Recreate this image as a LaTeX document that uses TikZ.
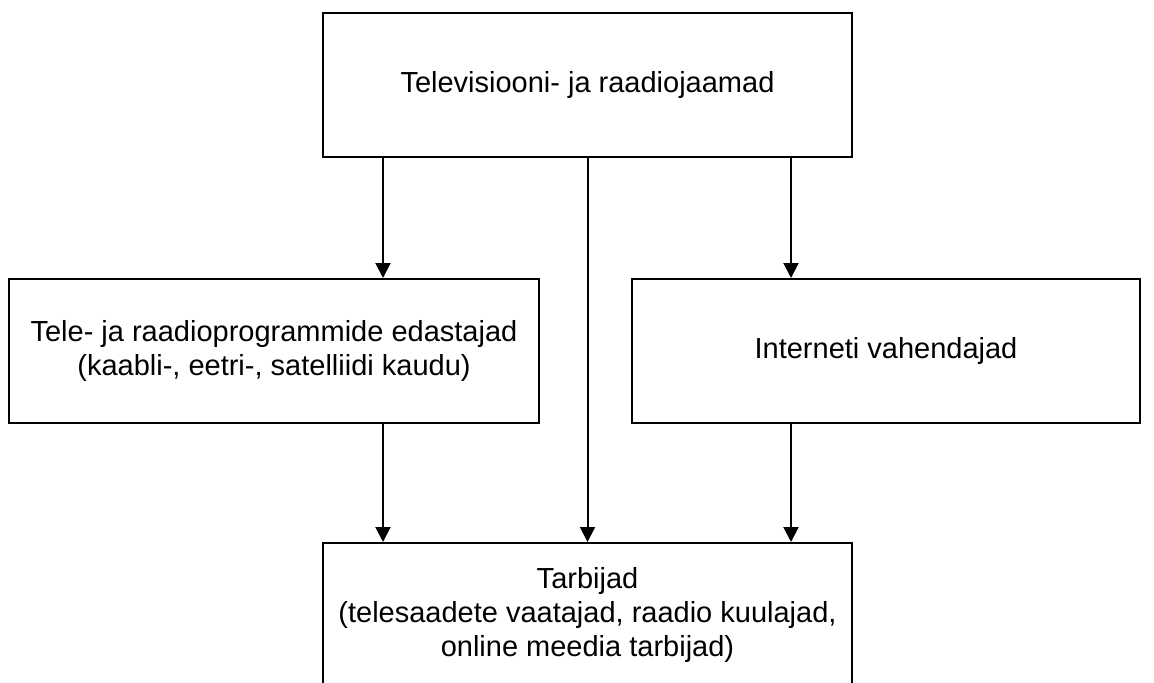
\documentclass[tikz,border=0pt]{standalone}
\usepackage{fontspec}
\setmainfont{Liberation Sans}
\usetikzlibrary{arrows.meta}
\tikzset{
	kast/.style={draw,line width=1pt,align=center,minimum height=72pt,inner sep=0pt,
		font=\fontsize{14.5}{17}\selectfont},
	nool/.style={line width=1pt,-{Triangle[width=7.5pt,length=7.5pt]}}
}
\begin{document}
\begin{tikzpicture}[x=0.5pt,y=-0.5pt]
	\useasboundingbox (0,0) rectangle (1154,682);
	\clip (0,0) rectangle (1154,682);
	\node[kast,minimum width=264.5pt] (jaamad) at (587.5,85) {Televisiooni- ja raadiojaamad};%ylemine kast
	\node[kast,minimum width=265pt] (edastajad) at (274,351) {Tele- ja raadioprogrammide edastajad\\(kaabli-, eetri-, satelliidi kaudu)};%vasak kast
	\node[kast,minimum width=254pt] (internet) at (886,351) {Interneti vahendajad};%parem kast
	\node[kast,minimum width=264.5pt] (tarbijad) at (587.5,615) {Tarbijad\\(telesaadete vaatajad, raadio kuulajad,\\online meedia tarbijad)};%alumine kast
	\coordinate (vasak) at (383,0);%vasakud nooled
	\coordinate (parem) at (791,0);%paremad nooled
	\draw[nool] (vasak |- jaamad.south) -- (vasak |- edastajad.north);
	\draw[nool] (jaamad.south) -- (tarbijad.north);
	\draw[nool] (parem |- jaamad.south) -- (parem |- internet.north);
	\draw[nool] (vasak |- edastajad.south) -- (vasak |- tarbijad.north);
	\draw[nool] (parem |- internet.south) -- (parem |- tarbijad.north);

\end{tikzpicture}
\end{document}
